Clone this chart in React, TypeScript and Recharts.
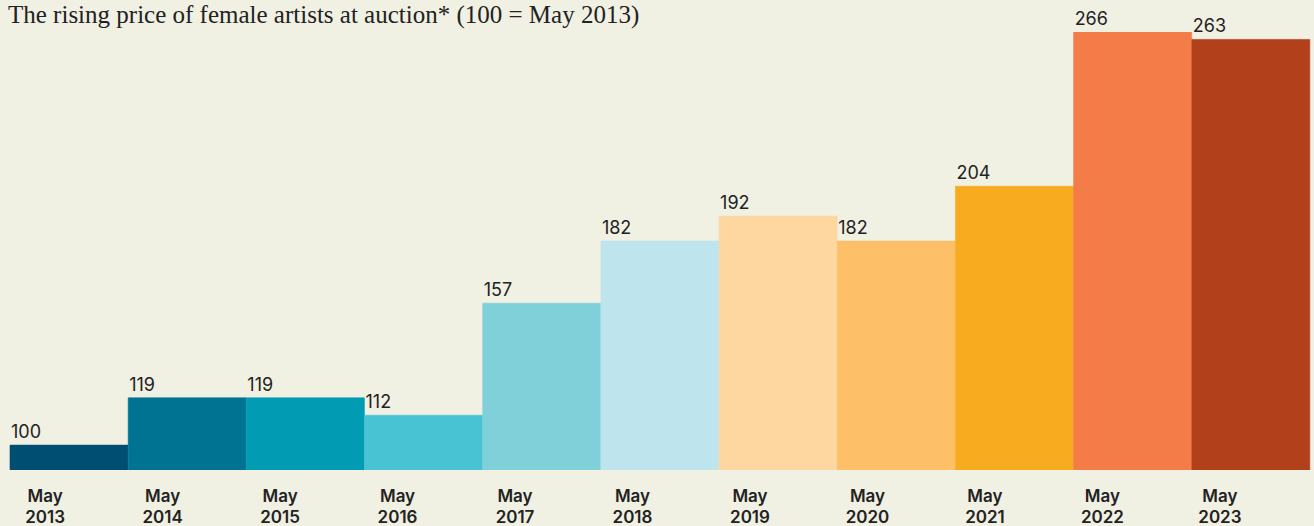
import { Bar, BarChart, Cell, LabelList, XAxis, YAxis } from "recharts"

const years = ["2013", "2014", "2015", "2016", "2017", "2018", "2019", "2020", "2021", "2022", "2023"]
const indexValues = [100, 119, 119, 112, 157, 182, 192, 182, 204, 266, 263]
const barColors = [
  "#004f73",
  "#007392",
  "#029bb4",
  "#48c3d3",
  "#80d0da",
  "#bee4ee",
  "#fed7a0",
  "#fdc068",
  "#f9ab1f",
  "#f47c48",
  "#b2401b",
]

const data = years.map((year, i) => ({ label: year, value: indexValues[i] }))

const BG = "#f0f0e3"
const SANS = "Inter, 'Noto Sans', sans-serif"

// labels sit a bit left of bar centre, drifting slightly further left across the axis
function YearTick({ x, y, payload, index }: any) {
  const shift = -24 - 0.7 * (index ?? 0)
  return (
    <g transform={`translate(${x + shift},${y})`}>
      <text textAnchor="middle" fontFamily={SANS} fontWeight={600} fontSize={17} fill="#222">
        <tspan x={0} y={24}>May</tspan>
        <tspan x={0} y={45}>{payload.value}</tspan>
      </text>
    </g>
  )
}

function ValueLabel({ x, y, value }: any) {
  return (
    <text x={x + 1} y={y - 7} fontFamily={SANS} fontSize={18} fill="#222" textAnchor="start">
      {value}
    </text>
  )
}

export default function App() {
  return (
    <div style={{ position: "relative", width: 1314, height: 526, background: BG }}>
      <style>{"body{margin:0;background:" + BG + "}"}</style>
      <div
        style={{
          position: "absolute",
          left: 8,
          top: 1,
          fontFamily: "'Liberation Serif', serif",
          fontSize: 25,
          color: "#222",
          whiteSpace: "nowrap",
        }}
      >
        The rising price of female artists at auction* (100 = May 2013)
      </div>
      <BarChart
        width={1314}
        height={526}
        data={data}
        margin={{ top: 32, right: 4, left: 10, bottom: 6 }}
        barCategoryGap={0}
        barGap={0}
      >
        <XAxis dataKey="label" axisLine={false} tickLine={false} height={50} tick={<YearTick />} interval={0} />
        <YAxis hide domain={[90, 266]} allowDataOverflow />
        <Bar dataKey="value" isAnimationActive={false} baseValue={90}>
          {data.map((d, i) => (
            <Cell key={d.label} fill={barColors[i]} stroke={barColors[i]} strokeWidth={0.6} />
          ))}
          <LabelList dataKey="value" content={<ValueLabel />} />
        </Bar>
      </BarChart>
    </div>
  )
}
